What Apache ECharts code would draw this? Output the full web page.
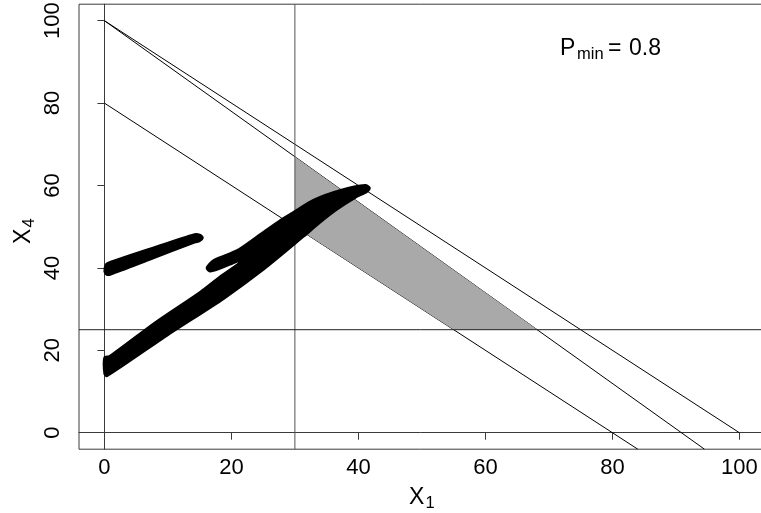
<!DOCTYPE html>
<html>
<head>
<meta charset="utf-8">
<script src="https://cdn.jsdelivr.net/npm/echarts@6/dist/echarts.min.js"></script>
<style>
  html, body { margin: 0; padding: 0; background: #ffffff; }
  #chart { width: 761px; height: 513px; }
</style>
</head>
<body>
<div id="chart"></div>
<script>
  // 刻度
  const xTicks = [0, 20, 40, 60, 80, 100]
  const yTicks = [0, 20, 40, 60, 80, 100]

  // 约束线 (x1, x4)
  const lineA = [[0, 100], [100, 0]]
  const lineB = [[0, 100], [94.5, -4]]
  const lineC = [[0, 80], [84, -4]]
  const lineX1 = [[30, -4], [30, 104]]
  const lineX4 = [[-4, 25], [104, 25]]

  // 可行域 (灰色)
  const feasible = [[30, 67], [68.2, 25], [55, 25], [30, 50]]

  // 解的点云轮廓 (黑色)
  const cloudShort = [[0, 39.2], [0.3, 41.0], [1, 41.5], [7, 44.6], [14.2, 48.2], [15.1, 48.0], [15.5, 47.3],
    [15, 46.5], [14.3, 46.2], [7, 41.9], [1, 38.4], [0.3, 38.4]]
  const cloudMain = [[0.4, 13.7], [10, 23.7], [18.8, 32.5], [25.1, 39.6], [31.4, 47.6], [34, 51.0], [36.6, 54.1],
    [39.5, 57.0], [41.4, 58.5], [41.8, 59.4], [41.1, 60.1], [37.2, 58.9], [32.9, 56.5], [29.8, 53.6], [27.7, 51.6],
    [24, 47.6], [20.9, 44.3], [17.2, 41.9], [16.1, 40.0], [16.7, 39.1], [19.5, 40.6], [22.2, 42.3],
    [18.2, 37.9], [15.1, 34.2], [8, 26.8], [0.8, 18.6], [0, 18.3], [0, 14.3]]

  const FONT = 'Liberation Sans, Arial, sans-serif'
  const AXIS_COLOR = '#3a3a3a'

  function lineSeries(data, color, z) {
    return {
      type: 'line',
      data: data,
      z: z,
      showSymbol: false,
      silent: true,
      animation: false,
      lineStyle: { color: color, width: 1 }
    }
  }

  function polygonSeries(points, color, z, strokeWidth, smooth) {
    return {
      type: 'custom',
      z: z,
      silent: true,
      animation: false,
      data: [points[0]],
      renderItem: function (params, api) {
        return {
          type: 'polygon',
          shape: { points: points.map(function (p) { return api.coord(p) }), smooth: smooth || 0 },
          style: { fill: color, stroke: strokeWidth ? color : null, lineWidth: strokeWidth, lineJoin: 'round' }
        }
      }
    }
  }

  function axisOpt(ticks, isY) {
    return {
      type: 'value',
      min: -4,
      max: 104,
      axisLine: { show: true, lineStyle: { color: AXIS_COLOR, width: 1 } },
      axisTick: { show: true, length: 7, customValues: ticks, lineStyle: { color: AXIS_COLOR, width: 1 } },
      axisLabel: {
        customValues: ticks,
        rotate: isY ? 90 : 0,
        margin: isY ? 15 : 8,
        color: '#000',
        fontSize: 22,
        fontFamily: FONT
      },
      splitLine: { show: false }
    }
  }

  // 文字 (middle 对齐, y 为字形中线)
  function txt(text, x, y, size) {
    return {
      type: 'text', x: x, y: y, silent: true,
      style: { text: text, fontSize: size, fontFamily: FONT, fill: '#000', verticalAlign: 'middle', align: 'left' }
    }
  }

  const myChart = echarts.init(document.getElementById('chart'), null, { renderer: 'canvas' })

  const option = {
    animation: false,
    backgroundColor: '#ffffff',
    grid: {
      left: 79, top: 4.2, width: 685.8, height: 445,
      show: true, borderColor: AXIS_COLOR, borderWidth: 1,
      outerBoundsMode: 'none'
    },
    xAxis: axisOpt(xTicks, false),
    yAxis: axisOpt(yTicks, true),
    series: [
      lineSeries(lineA, '#000', 1),
      lineSeries(lineB, '#000', 1),
      lineSeries(lineC, '#000', 1),
      polygonSeries(feasible, '#a9a9a9', 2, 0, 0),
      lineSeries(lineX1, '#555', 3),
      lineSeries(lineX4, '#222', 3),
      polygonSeries(cloudMain, '#000', 4, 2, 0.25),
      polygonSeries(cloudShort, '#000', 4, 2, 0.25)
    ],
    graphic: [
      // P_min = 0.8
      txt('P', 560, 49, 23),
      txt('min', 577, 54.5, 16.5),
      txt('=', 608, 49, 23),
      txt('0.8', 629, 49, 23),
      // x 轴标题
      txt('X', 409, 498, 23),
      txt('1', 425.5, 503.5, 16.5),
      // y 轴标题 (旋转)
      {
        type: 'group', x: 31.5, y: 244, rotation: Math.PI / 2,
        children: [
          txt('X', 0, -8, 23),
          txt('4', 16.5, -2.3, 16.5)
        ]
      }
    ]
  }

  myChart.setOption(option)
</script>
</body>
</html>
